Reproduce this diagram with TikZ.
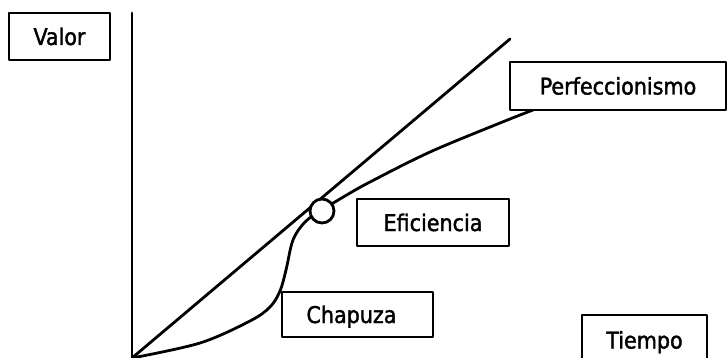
\documentclass[tikz,border=0pt]{standalone}
\usepackage{fontspec}
\setmainfont[FakeBold=1.6]{DejaVu Sans Condensed}
\begin{document}
\begin{tikzpicture}[x=1pt,y=-1pt,
  line width=2.8pt, line join=round, line cap=round,
  tag/.style={draw, rectangle, fill=white, inner sep=0pt, line width=2.6pt,
    text height=17pt, text depth=0pt,
    font=\fontsize{23}{27}\selectfont},
  spot/.style={draw, circle, fill=white, inner sep=0pt, minimum size=24pt},
]
\clip (0,0) rectangle (727,358);
\useasboundingbox (0,0) rectangle (727,358);

% axis and reference line
\coordinate (o) at (132,358);
\coordinate (ytop) at (132,13);
\coordinate (diag) at (510,39);
\coordinate (pend) at (533,110);
\draw (o) -- (ytop);
\draw (o) -- (diag);

% value curve: slow start, steep rise, then flattening
\draw plot[smooth, tension=0.55] coordinates {
  (o) (200,343) (250,321) (270,307) (280,291) (286,270) (293,240)
  (305,222) (322,210) (345,196) (370,182) (430,152) (500,123) (pend)};

% efficiency point
\node[spot] (eff) at (322,211) {};

% labels
\node[tag, minimum width=101pt, minimum height=47pt] (valor) at (59.5,36.5) {Valor};
\node[tag, minimum width=216pt, minimum height=48pt] (perf) at (618,86) {Perfeccionismo};
\node[tag, minimum width=152pt, minimum height=47pt] (efic) at (433,222.5) {Eficiencia};
\node[tag, minimum width=151pt, minimum height=45pt] (chap) at (357.5,314.5) {Chapuza\hspace*{12pt}};
\node[tag, minimum width=125pt, minimum height=50pt] (tiempo) at (644.5,340) {Tiempo};
\end{tikzpicture}
\end{document}
